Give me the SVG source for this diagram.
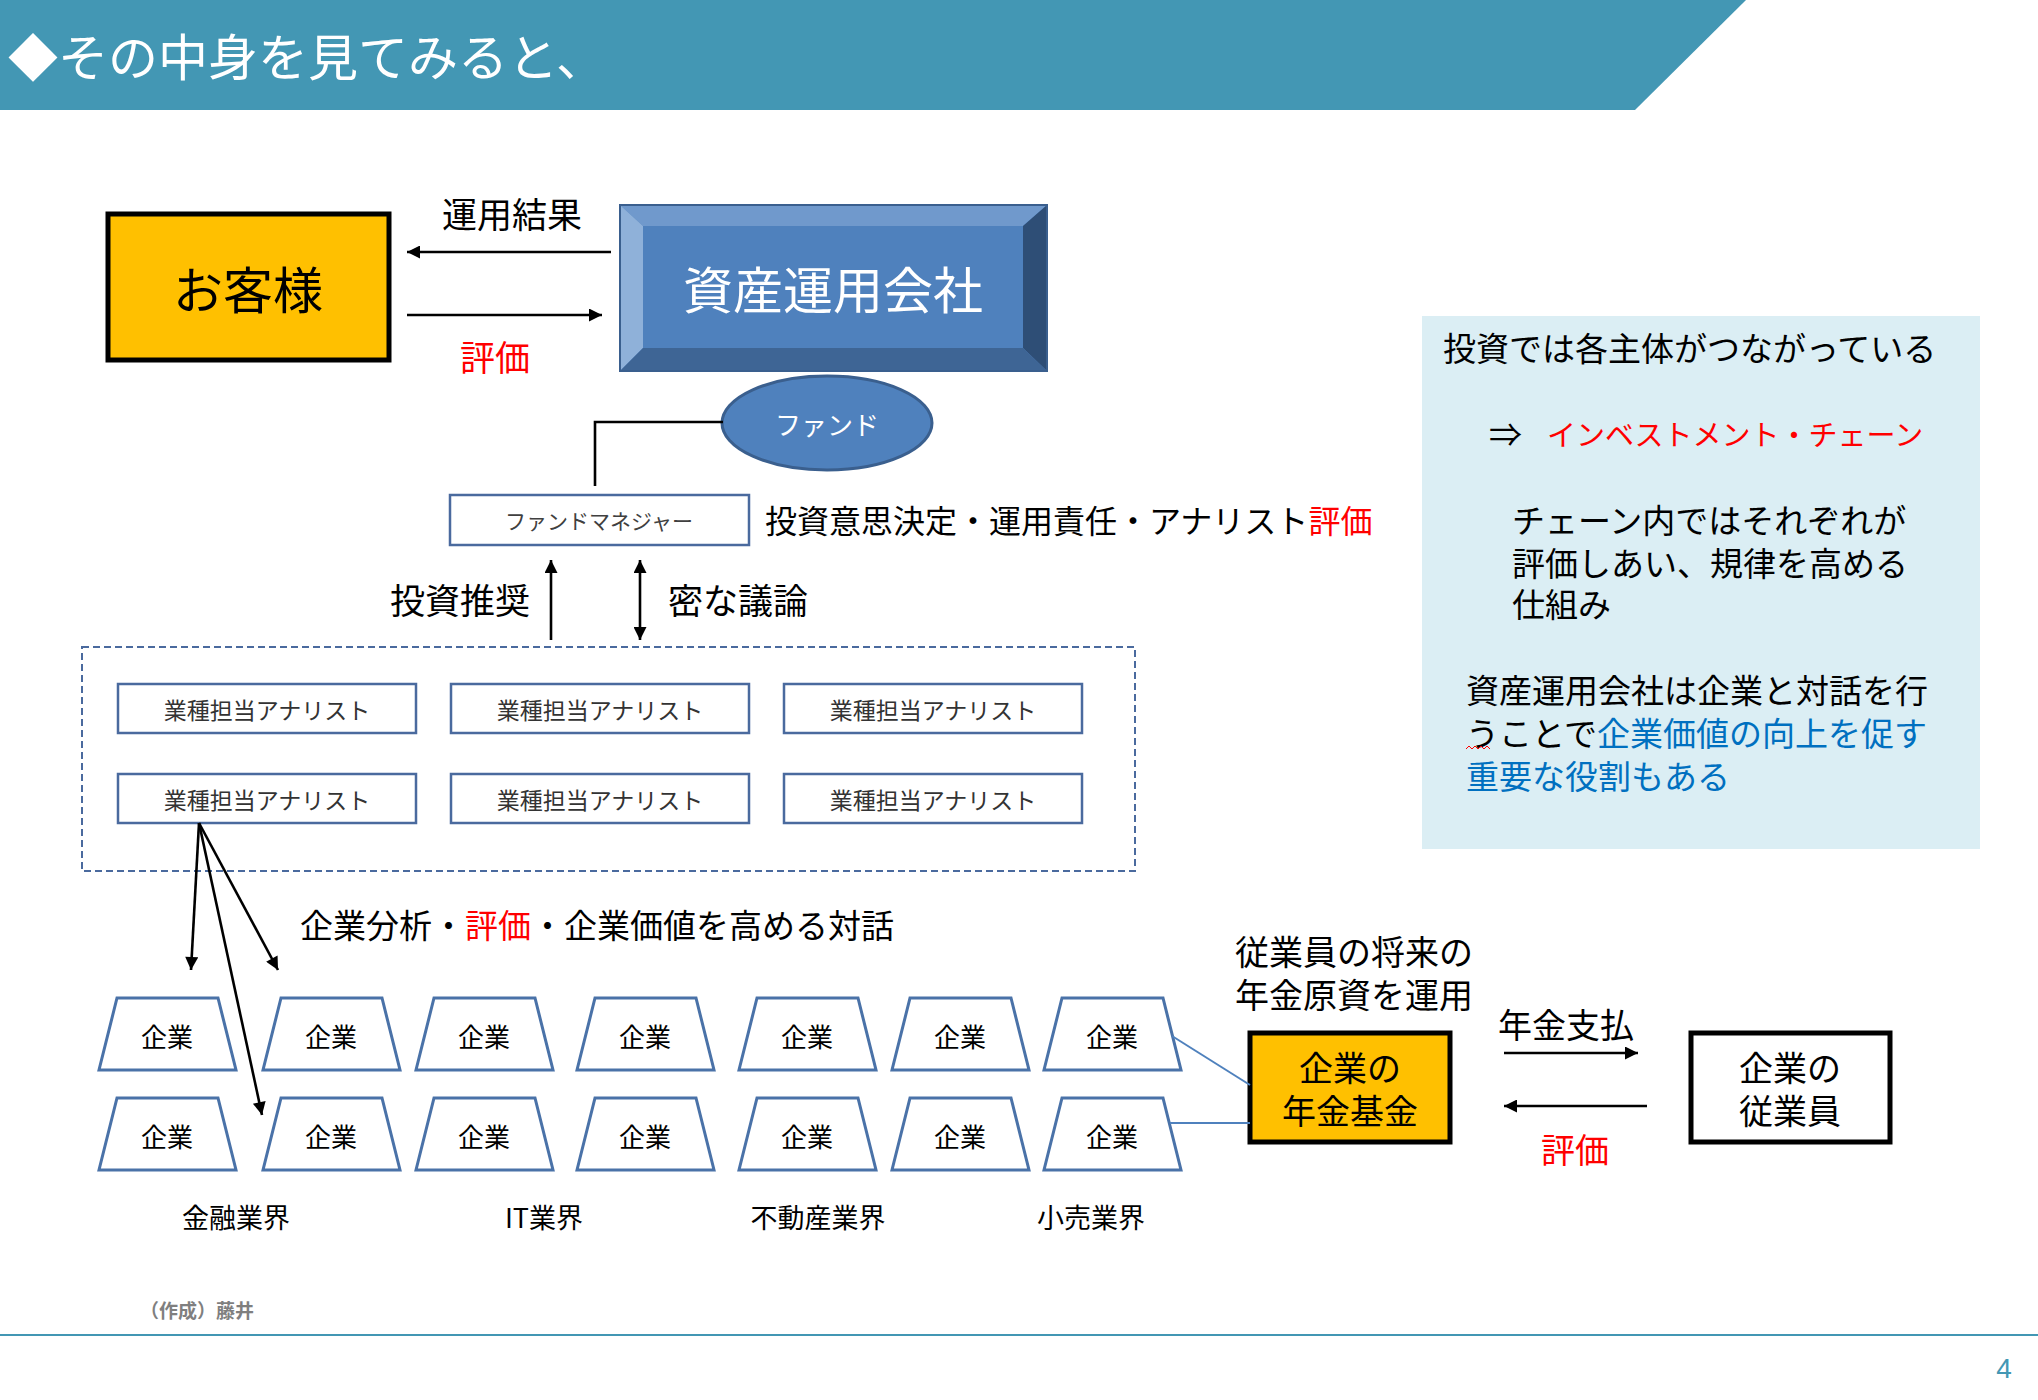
<svg xmlns="http://www.w3.org/2000/svg" width="2038" height="1400" viewBox="0 0 2038 1400">
<style>
  text { font-family: "Noto Sans CJK JP", "Noto Sans", sans-serif; }
  .c { text-anchor: middle; dominant-baseline: central; }
  .s { dominant-baseline: central; }
  .blk { fill: #000000; }
  .box { fill: #ffffff; stroke: #4a6a9e; stroke-width: 2.5; }
  .trap { fill: #ffffff; stroke: #4a72a8; stroke-width: 3; }
  .arr { stroke: #000000; stroke-width: 2.6; fill: none; }
  .blue { stroke: #4f81bd; stroke-width: 2; fill: none; }
  .ana { font-size: 23px; fill: #333333; }
  .kig { font-size: 26px; fill: #000000; }
  .lab { font-size: 35px; fill: #000000; }
  .pan { font-size: 33px; fill: #000000; }
  .red { fill: #ff0000; }
</style>
<defs>
  <marker id="ah" viewBox="0 0 10 10" refX="10" refY="5" markerWidth="18" markerHeight="13" markerUnits="userSpaceOnUse" orient="auto-start-reverse">
    <path d="M0,0 L10,5 L0,10 Z" fill="#000000"/>
  </marker>
</defs>

<g id="banner">
  <polygon points="0,0 1746,0 1635,110 0,110" fill="#4397b4"/>
  <text x="8" y="54" class="s" font-size="50" fill="#ffffff">◆その中身を見てみると、</text>
</g>

<g id="customer">
  <rect x="108" y="214" width="281" height="146" fill="#ffc000" stroke="#000000" stroke-width="5"/>
  <text x="248" y="287" class="c" font-size="50" fill="#000000">お客様</text>
</g>

<g id="asset-manager">
  <rect x="620" y="205" width="427" height="166" fill="#4f81bd" stroke="#3a5f8e" stroke-width="2"/>
  <polygon points="620,205 1047,205 1023,226 643,226" fill="#7099cc"/>
  <polygon points="620,205 643,226 643,348 620,371" fill="#8fb1d9"/>
  <polygon points="1047,205 1047,371 1023,348 1023,226" fill="#2e4e76"/>
  <polygon points="620,371 643,348 1023,348 1047,371" fill="#3e6595"/>
  <rect x="643" y="226" width="380" height="122" fill="#4f81bd"/>
  <rect x="620" y="205" width="427" height="166" fill="none" stroke="#3a5f8e" stroke-width="2"/>
  <text x="833" y="287" class="c" font-size="50" fill="#ffffff">資産運用会社</text>
</g>

<g id="fund">
  <ellipse cx="827" cy="423" rx="105" ry="47" fill="#4f81bd" stroke="#3a5f8e" stroke-width="3"/>
  <text x="827" y="423" class="c" font-size="26" fill="#ffffff">ファンド</text>
</g>

<g id="fund-manager">
  <rect x="450" y="495" width="299" height="50" class="box"/>
  <text x="599" y="520" class="c" font-size="21" fill="#404040">ファンドマネジャー</text>
</g>

<g id="analysts">
  <rect x="82" y="647" width="1053" height="224" fill="none" stroke="#4a6a9e" stroke-width="2" stroke-dasharray="7,4"/>
  <g id="analyst-1"><rect x="118" y="684" width="298" height="49" class="box"/><text x="267" y="709" class="c ana">業種担当アナリスト</text></g>
  <g id="analyst-2"><rect x="451" y="684" width="298" height="49" class="box"/><text x="600" y="709" class="c ana">業種担当アナリスト</text></g>
  <g id="analyst-3"><rect x="784" y="684" width="298" height="49" class="box"/><text x="933" y="709" class="c ana">業種担当アナリスト</text></g>
  <g id="analyst-4"><rect x="118" y="774" width="298" height="49" class="box"/><text x="267" y="799" class="c ana">業種担当アナリスト</text></g>
  <g id="analyst-5"><rect x="451" y="774" width="298" height="49" class="box"/><text x="600" y="799" class="c ana">業種担当アナリスト</text></g>
  <g id="analyst-6"><rect x="784" y="774" width="298" height="49" class="box"/><text x="933" y="799" class="c ana">業種担当アナリスト</text></g>
</g>

<g id="companies">
  <g id="co-1-1"><polygon points="117,998 218,998 236,1070 99,1070" class="trap"/><text x="167" y="1035" class="c kig">企業</text></g>
  <g id="co-1-2"><polygon points="281,998 382,998 400,1070 263,1070" class="trap"/><text x="331" y="1035" class="c kig">企業</text></g>
  <g id="co-1-3"><polygon points="434,998 535,998 553,1070 416,1070" class="trap"/><text x="484" y="1035" class="c kig">企業</text></g>
  <g id="co-1-4"><polygon points="595,998 696,998 714,1070 577,1070" class="trap"/><text x="645" y="1035" class="c kig">企業</text></g>
  <g id="co-1-5"><polygon points="757,998 858,998 876,1070 739,1070" class="trap"/><text x="807" y="1035" class="c kig">企業</text></g>
  <g id="co-1-6"><polygon points="910,998 1011,998 1029,1070 892,1070" class="trap"/><text x="960" y="1035" class="c kig">企業</text></g>
  <g id="co-1-7"><polygon points="1062,998 1163,998 1181,1070 1044,1070" class="trap"/><text x="1112" y="1035" class="c kig">企業</text></g>
  <g id="co-2-1"><polygon points="117,1098 218,1098 236,1170 99,1170" class="trap"/><text x="167" y="1135" class="c kig">企業</text></g>
  <g id="co-2-2"><polygon points="281,1098 382,1098 400,1170 263,1170" class="trap"/><text x="331" y="1135" class="c kig">企業</text></g>
  <g id="co-2-3"><polygon points="434,1098 535,1098 553,1170 416,1170" class="trap"/><text x="484" y="1135" class="c kig">企業</text></g>
  <g id="co-2-4"><polygon points="595,1098 696,1098 714,1170 577,1170" class="trap"/><text x="645" y="1135" class="c kig">企業</text></g>
  <g id="co-2-5"><polygon points="757,1098 858,1098 876,1170 739,1170" class="trap"/><text x="807" y="1135" class="c kig">企業</text></g>
  <g id="co-2-6"><polygon points="910,1098 1011,1098 1029,1170 892,1170" class="trap"/><text x="960" y="1135" class="c kig">企業</text></g>
  <g id="co-2-7"><polygon points="1062,1098 1163,1098 1181,1170 1044,1170" class="trap"/><text x="1112" y="1135" class="c kig">企業</text></g>
  <text x="236" y="1216" class="c" font-size="27" fill="#000000">金融業界</text>
  <text x="544" y="1216" class="c" font-size="27" fill="#000000">IT業界</text>
  <text x="818" y="1216" class="c" font-size="27" fill="#000000">不動産業界</text>
  <text x="1091" y="1216" class="c" font-size="27" fill="#000000">小売業界</text>
</g>

<g id="pension-fund">
  <rect x="1250" y="1033" width="200" height="109" fill="#ffc000" stroke="#000000" stroke-width="5"/>
  <text x="1350" y="1066" class="c" font-size="34" fill="#000000">企業の</text>
  <text x="1350" y="1109" class="c" font-size="34" fill="#000000">年金基金</text>
</g>

<g id="employees">
  <rect x="1691" y="1033" width="199" height="109" fill="#ffffff" stroke="#000000" stroke-width="5"/>
  <text x="1790" y="1066" class="c" font-size="34" fill="#000000">企業の</text>
  <text x="1790" y="1109" class="c" font-size="34" fill="#000000">従業員</text>
</g>

<g id="connectors">
  <line x1="611" y1="252" x2="407" y2="252" class="arr" marker-end="url(#ah)"/>
  <line x1="407" y1="315" x2="602" y2="315" class="arr" marker-end="url(#ah)"/>
  <polyline points="723,422 595,422 595,486" fill="none" stroke="#000000" stroke-width="2.6"/>
  <line x1="551" y1="640" x2="551" y2="560" class="arr" marker-end="url(#ah)"/>
  <line x1="640" y1="560" x2="640" y2="640" class="arr" marker-start="url(#ah)" marker-end="url(#ah)"/>
  <line x1="199" y1="823" x2="191" y2="970" class="arr" marker-end="url(#ah)"/>
  <line x1="199" y1="823" x2="278" y2="970" class="arr" marker-end="url(#ah)"/>
  <line x1="199" y1="823" x2="262" y2="1115" class="arr" marker-end="url(#ah)"/>
  <line x1="1172" y1="1036" x2="1250" y2="1085" class="blue"/>
  <line x1="1170" y1="1123" x2="1250" y2="1123" class="blue"/>
  <line x1="1504" y1="1053" x2="1638" y2="1053" class="arr" marker-end="url(#ah)"/>
  <line x1="1647" y1="1106" x2="1504" y2="1106" class="arr" marker-end="url(#ah)"/>
</g>

<g id="labels">
  <text x="512" y="212" class="c lab">運用結果</text>
  <text x="495" y="355" class="c" font-size="35" fill="#ff0000">評価</text>
  <text x="765" y="519" class="s" font-size="32" fill="#000000">投資意思決定・運用責任・アナリスト<tspan fill="#ff0000">評価</tspan></text>
  <text x="460" y="598" class="c lab">投資推奨</text>
  <text x="738" y="598" class="c lab">密な議論</text>
  <text x="300" y="924" class="s" font-size="33" fill="#000000">企業分析・<tspan fill="#ff0000">評価</tspan>・企業価値を高める対話</text>
  <text x="1235" y="950" class="s" font-size="34" fill="#000000">従業員の将来の</text>
  <text x="1235" y="993" class="s" font-size="34" fill="#000000">年金原資を運用</text>
  <text x="1566" y="1023" class="c" font-size="34" fill="#000000">年金支払</text>
  <text x="1575" y="1148" class="c" font-size="34" fill="#ff0000">評価</text>
</g>

<g id="panel">
  <rect x="1422" y="316" width="558" height="533" fill="#dbeef4"/>
  <text x="1443" y="347" class="s pan">投資では各主体がつながっている</text>
  <text x="1489" y="433" class="s pan">⇒</text>
  <text x="1547" y="433" class="s" font-size="29" fill="#ff0000">インベストメント・チェーン</text>
  <text x="1512" y="519" class="s pan">チェーン内ではそれぞれが</text>
  <text x="1512" y="562" class="s pan">評価しあい、規律を高める</text>
  <text x="1512" y="603" class="s pan">仕組み</text>
  <text x="1466" y="689" class="s pan">資産運用会社は企業と対話を行</text>
  <text x="1466" y="732" class="s pan">うことで<tspan fill="#0070c0">企業価値の向上を促す</tspan></text>
  <text x="1466" y="775" class="s" font-size="33" fill="#0070c0">重要な役割もある</text>
  <path d="M1466,749 l3,-3 l3,3 l3,-3 l3,3 l3,-3 l3,3 l3,-3 l3,3" fill="none" stroke="#ff0000" stroke-width="1"/>
</g>

<g id="footer">
  <text x="140" y="1309" class="s" font-size="19" font-weight="bold" fill="#7f7f7f">（作成）藤井</text>
  <line x1="0" y1="1335" x2="2038" y2="1335" stroke="#4397b4" stroke-width="2"/>
  <text x="2004" y="1368" text-anchor="middle" dominant-baseline="central" font-size="28" fill="#4397b4" style="font-family:'Liberation Sans', sans-serif">4</text>
</g>
</svg>
